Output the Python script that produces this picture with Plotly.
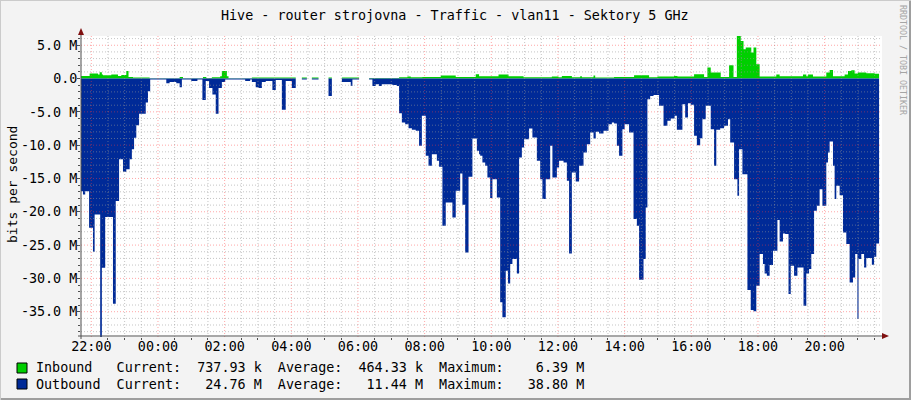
import plotly.graph_objects as go
import pandas as pd

# ---------------- data (Mbit/s, step values starting at given time) ----------------
out_times = ["21:41", "21:45", "21:49", "21:56", "22:03", "22:06", "22:16", "22:19", "22:25", "22:39",
             "22:44", "22:50", "22:57", "23:03", "23:09", "23:13", "23:17", "23:21", "23:26", "23:38",
             "23:42", "23:46", "00:15", "00:21", "00:33", "00:39", "00:43", "01:00", "01:11", "01:20",
             "01:26", "01:32", "01:38", "01:44", "01:49", "01:55", "02:01", "02:37", "02:46", "02:49",
             "02:56", "03:01", "03:07", "03:14", "03:26", "03:32", "03:43", "03:50", "04:01", "04:08",
             "04:19", "04:28", "04:37", "04:49", "05:07", "05:13", "05:31", "05:47", "05:50", "06:02",
             "06:20", "06:26", "06:32", "06:38", "06:43", "07:02", "07:10", "07:14", "07:19", "07:25",
             "07:31", "07:37", "07:44", "07:50", "07:55", "08:02", "08:07", "08:13", "08:22", "08:26",
             "08:32", "08:38", "08:50", "08:56", "09:04", "09:08", "09:13", "09:19", "09:26", "09:34",
             "09:38", "09:40", "09:44", "09:49", "09:53", "09:58", "10:02", "10:10", "10:16", "10:20",
             "10:26", "10:30", "10:34", "10:38", "10:46", "10:50", "10:55", "10:59", "11:08", "11:14",
             "11:22", "11:28", "11:32", "11:38", "11:46", "11:50", "11:58", "12:02", "12:10", "12:16",
             "12:20", "12:25", "12:32", "12:38", "12:46", "12:52", "12:58", "13:04", "13:08", "13:14",
             "13:22", "13:31", "13:37", "13:41", "13:46", "13:50", "13:56", "14:00", "14:08", "14:16",
             "14:22", "14:26", "14:34", "14:38", "14:41", "14:46", "14:52", "15:02", "15:10", "15:17",
             "15:23", "15:30", "15:34", "15:44", "15:49", "15:54", "15:59", "16:05", "16:10", "16:16",
             "16:20", "16:26", "16:35", "16:41", "16:45", "16:52", "16:59", "17:06", "17:10", "17:17",
             "17:23", "17:26", "17:32", "17:41", "17:47", "17:52", "17:57", "18:03", "18:09", "18:12",
             "18:16", "18:21", "18:27", "18:35", "18:39", "18:45", "18:49", "18:55", "18:59", "19:05",
             "19:11", "19:22", "19:27", "19:32", "19:36", "19:41", "19:46", "19:51", "19:56", "20:03",
             "20:06", "20:09", "20:15", "20:18", "20:21", "20:27", "20:33", "20:39", "20:45", "20:51",
             "20:55", "20:59", "21:01", "21:06", "21:11", "21:15", "21:25", "21:29", "21:33", "21:38"]
out_vals = [16.9, 17.4, 16.9, 22.4, 26.0, 20.4, 38.8, 28.4, 20.8, 33.8,
            18.4, 12.1, 14.0, 13.6, 12.1, 10.6, 8.9, 7.0, 5.3, 3.6,
            1.9, 0.15, 0.7, 0.5, 0.7, 1.3, 0.15, 0.35, 0.15, 3.2,
            0.35, 1.4, 2.4, 5.3, 1.4, 0.5, 0.15, 0.35, 0.15, 0.5,
            1.3, 1.4, 0.5, 0.35, 1.7, 0.2, 4.7, 0.35, 1.4, 0.0,
            0.15, 0.0, 0.15, 0.0, 2.6, 0.0, 0.5, 1.1, 0.15, 0.0,
            0.15, 1.1, 0.85, 1.1, 0.85, 0.95, 1.1, 5.2, 6.6, 6.85,
            7.45, 7.7, 7.85, 10.1, 5.6, 11.6, 13.1, 11.35, 12.35, 13.25,
            22.1, 18.6, 20.85, 16.85, 14.25, 18.95, 26.1, 14.75, 9.0, 10.85,
            11.35, 11.6, 12.6, 13.1, 14.85, 17.95, 15.1, 17.85, 33.6, 35.85,
            28.85, 30.75, 27.85, 27.1, 29.25, 11.85, 10.35, 9.1, 7.5, 8.85,
            12.35, 15.1, 18.1, 15.1, 10.1, 14.85, 13.35, 12.35, 12.6, 15.35,
            26.25, 14.1, 15.45, 13.1, 11.1, 9.85, 8.1, 9.0, 8.0, 8.25,
            7.85, 6.85, 6.6, 6.75, 10.1, 11.6, 7.6, 6.85, 8.1, 21.1,
            22.1, 30.2, 27.1, 19.35, 3.1, 2.6, 2.45, 4.1, 7.1, 6.35,
            6.0, 5.6, 7.7, 3.85, 5.85, 3.7, 3.95, 8.6, 10.0, 8.95,
            6.1, 4.1, 7.6, 13.1, 7.7, 7.45, 7.1, 6.1, 9.6, 15.1,
            17.6, 10.6, 14.35, 31.75, 34.75, 34.95, 31.1, 26.35, 27.85, 29.25,
            29.6, 28.0, 25.85, 21.25, 24.45, 23.25, 23.35, 32.35, 28.1, 29.6,
            28.35, 34.1, 29.25, 28.6, 26.35, 19.85, 19.1, 16.6, 19.1, 12.6,
            11.1, 9.45, 13.1, 18.1, 16.1, 17.5, 23.1, 24.85, 30.6, 29.85,
            26.35, 36.1, 27.1, 26.35, 28.35, 26.95, 27.95, 26.75, 24.76, 24.76]

in_times = ["21:41", "21:57", "22:12", "22:15", "22:19", "22:21", "22:36", "22:48", "22:54", "23:03",
            "23:07", "23:15", "23:45", "00:39", "00:45", "01:21", "01:27", "01:37", "01:52", "01:55",
            "02:04", "02:07", "02:49", "04:08", "04:19", "04:28", "04:37", "04:49", "05:07", "05:13",
            "05:31", "06:02", "06:20", "07:14", "07:29", "07:35", "07:56", "08:29", "08:56", "09:32",
            "09:38", "10:13", "10:31", "10:58", "11:49", "12:01", "12:07", "12:25", "12:40", "12:43",
            "13:04", "13:07", "13:41", "14:17", "14:44", "14:59", "15:29", "15:35", "16:05", "16:23",
            "16:29", "16:35", "16:53", "17:08", "17:16", "17:22", "17:29", "17:34", "17:38", "17:48",
            "17:52", "17:57", "18:03", "18:33", "18:39", "19:21", "19:27", "19:30", "19:39", "20:03",
            "20:09", "20:15", "20:36", "20:42", "20:48", "20:54", "21:00", "21:15", "21:30", "21:38"]
in_vals = [0.4, 0.75, 0.6, 0.95, 0.6, 0.5, 0.6, 0.4, 0.55, 1.15,
           0.25, 0.15, 0.05, 0.25, 0.05, 0.25, 0.1, 0.2, 0.35, 1.15,
           0.35, 0.05, 0.15, 0.0, 0.15, 0.0, 0.15, 0.0, 0.15, 0.0,
           0.15, 0.0, 0.1, 0.2, 0.3, 0.2, 0.25, 0.45, 0.25, 0.65,
           0.35, 0.6, 0.35, 0.2, 0.3, 0.2, 0.4, 0.2, 0.35, 0.2,
           0.45, 0.15, 0.25, 0.5, 0.2, 0.3, 0.4, 0.3, 0.65, 0.25,
           1.65, 0.9, 0.25, 2.0, 0.25, 6.39, 5.65, 4.4, 4.65, 3.9,
           4.65, 2.15, 0.3, 0.6, 0.35, 0.6, 0.35, 0.6, 0.3, 0.9,
           1.3, 0.35, 0.6, 1.15, 1.25, 0.75, 0.9, 0.8, 0.74, 0.74]

y_tick_vals = [5, 0, -5, -10, -15, -20, -25, -30, -35]
y_tick_text = ["5.0 M", "0.0", "-5.0 M", "-10.0 M", "-15.0 M", "-20.0 M", "-25.0 M", "-30.0 M", "-35.0 M"]

title_text = "Hive - router strojovna - Traffic - vlan11 - Sektory 5 GHz"
legend_rows = [
    ("Inbound", "737.93 k", "464.33 k", "6.39 M"),
    ("Outbound", "24.76 M", "11.44 M", "38.80 M"),
]

# ---------------- helpers ----------------
BASE = pd.Timestamp("2024-01-01")


def to_dt(times):
    res, day, prev = [], 0, None
    for s in times:
        h, m = map(int, s.split(":"))
        mins = h * 60 + m
        if prev is not None and mins < prev:
            day += 1
        prev = mins
        res.append(BASE + pd.Timedelta(days=day, minutes=mins))
    return res


W_FIG, H_FIG = 911, 400
L, R, T, B = 81, 882, 36, 337
PW, PH = R - L, B - T


def px(x):
    return (x - L) / PW


def py(y):
    return (B - y) / PH


GREEN = "#00CF00"
BLUE = "#002A97"
MONO = "DejaVu Sans Mono"
FS = 13.4

x_start = BASE + pd.Timedelta(hours=22) - pd.Timedelta(minutes=18.54)
x_end = x_start + pd.Timedelta(minutes=PW * 1.8)
y_min, y_max = -38.8, 6.39

fig = go.Figure()
fig.add_trace(go.Scatter(
    x=to_dt(in_times), y=[v * 1e6 for v in in_vals], mode="lines",
    line=dict(shape="hv", width=0, color=GREEN), fill="tozeroy", fillcolor=GREEN,
    hoverinfo="skip", showlegend=False))
fig.add_trace(go.Scatter(
    x=to_dt(out_times), y=[-v * 1e6 for v in out_vals], mode="lines",
    line=dict(shape="hv", width=0, color=BLUE), fill="tozeroy", fillcolor=BLUE,
    hoverinfo="skip", showlegend=False))

shapes = []
MINOR_C = "rgba(150,150,150,0.55)"
MAJOR_C = "rgba(255,60,60,0.45)"
DASH = "1px,2px"
# vertical grid (on top of data, like rrdtool)
t = BASE + pd.Timedelta(hours=22)
k = 0
while t <= x_end:
    col = MAJOR_C if k % 4 == 0 else MINOR_C
    shapes.append(dict(type="line", xref="x", yref="paper", x0=t, x1=t, y0=0, y1=1,
                       line=dict(color=col, width=1, dash=DASH), layer="above"))
    t += pd.Timedelta(minutes=30)
    k += 1
# horizontal grid
for v in range(-38, 7):
    if v == 0:
        continue
    col = MAJOR_C if v % 5 == 0 else MINOR_C
    shapes.append(dict(type="line", xref="paper", yref="y", x0=0, x1=1, y0=v * 1e6, y1=v * 1e6,
                       line=dict(color=col, width=1, dash=DASH), layer="above"))

# axis lines with arrows
AX = "#505050"
ARROW = "#7F1010"
shapes.append(dict(type="line", xref="paper", yref="paper", x0=px(78), x1=px(885), y0=py(B - 1), y1=py(B - 1),
                   line=dict(color=AX, width=1), layer="above"))
shapes.append(dict(type="line", xref="paper", yref="paper", x0=px(L), x1=px(L), y0=py(B + 2), y1=py(31),
                   line=dict(color=AX, width=1), layer="above"))
shapes.append(dict(type="path", xref="paper", yref="paper",
                   path=f"M {px(882)} {py(B - 4)} L {px(889)} {py(B - 1)} L {px(882)} {py(B + 2)} Z",
                   fillcolor=ARROW, line=dict(width=0), layer="above"))
shapes.append(dict(type="path", xref="paper", yref="paper",
                   path=f"M {px(L - 3)} {py(35)} L {px(L)} {py(28)} L {px(L + 3)} {py(35)} Z",
                   fillcolor=ARROW, line=dict(width=0), layer="above"))

# outer frame shading
shapes.append(dict(type="line", xref="paper", yref="paper", x0=px(0), x1=px(911), y0=py(399), y1=py(399),
                   line=dict(color="#9E9E9E", width=2), layer="above"))
shapes.append(dict(type="line", xref="paper", yref="paper", x0=px(910), x1=px(910), y0=py(0), y1=py(400),
                   line=dict(color="#9E9E9E", width=2), layer="above"))
shapes.append(dict(type="line", xref="paper", yref="paper", x0=px(0), x1=px(911), y0=py(0.5), y1=py(0.5),
                   line=dict(color="#CBCBCB", width=1), layer="above"))
shapes.append(dict(type="line", xref="paper", yref="paper", x0=px(0.5), x1=px(0.5), y0=py(0), y1=py(400),
                   line=dict(color="#CBCBCB", width=1), layer="above"))

# legend boxes
for i, colr in enumerate([GREEN, BLUE]):
    yc = 368 + 16 * i
    shapes.append(dict(type="rect", xref="paper", yref="paper", x0=px(17), x1=px(27), y0=py(yc + 5), y1=py(yc - 5),
                       fillcolor=colr, line=dict(color="black", width=1), layer="above"))

annotations = []
annotations.append(dict(text=title_text, xref="paper", yref="paper", x=px(455), y=py(15),
                        xanchor="center", yanchor="middle", showarrow=False,
                        font=dict(family=MONO, size=FS, color="black")))
annotations.append(dict(text="bits per second", xref="paper", yref="paper", x=px(12), y=py(185),
                        xanchor="center", yanchor="middle", showarrow=False, textangle=-90,
                        font=dict(family=MONO, size=13, color="black")))
annotations.append(dict(text="RRDTOOL / TOBI OETIKER", xref="paper", yref="paper", x=px(903), y=py(60),
                        xanchor="center", yanchor="middle", showarrow=False, textangle=90,
                        font=dict(family=MONO, size=8.3, color="#A5A5A5")))
for i, (name, cur, avg, mx) in enumerate(legend_rows):
    line = f"{name:<10}Current:{cur:>10}  Average:{avg:>10}  Maximum:{mx:>10}"
    annotations.append(dict(text=line.replace(" ", "\u00a0"), xref="paper", yref="paper",
                            x=px(34), y=py(368 + 16 * i), xanchor="left", yanchor="middle",
                            showarrow=False, font=dict(family=MONO, size=FS, color="black")))

fig.update_layout(
    width=W_FIG, height=H_FIG,
    margin=dict(l=L, r=W_FIG - R, t=T, b=H_FIG - B, pad=0, autoexpand=False),
    paper_bgcolor="#F3F3F3", plot_bgcolor="white",
    showlegend=False,
    shapes=shapes, annotations=annotations,
    xaxis=dict(type="date", range=[x_start, x_end], tick0=BASE + pd.Timedelta(hours=22),
               dtick=7200000, tickformat="%H:%M", ticks="", automargin=False,
               showgrid=False, zeroline=False, showline=False, fixedrange=True,
               minor=dict(tick0=BASE + pd.Timedelta(hours=22), dtick=1800000, ticks="outside",
                          ticklen=2, tickcolor=AX, showgrid=False),
               tickfont=dict(family=MONO, size=FS, color="black")),
    yaxis=dict(range=[y_min * 1e6, y_max * 1e6], tickmode="array", automargin=False,
               tickvals=[v * 1e6 for v in y_tick_vals], ticktext=y_tick_text,
               ticks="outside", ticklen=3, tickcolor=AX, ticklabelstandoff=-3,
               showgrid=False, zeroline=False, showline=False, fixedrange=True,
               minor=dict(tickmode="linear", tick0=0, dtick=1e6, ticks="outside", ticklen=2,
                          tickcolor=AX, showgrid=False),
               tickfont=dict(family=MONO, size=FS, color="black")),
)

fig.write_html("out.html", config={"displayModeBar": False, "staticPlot": True},
               post_script="document.body.style.margin='0';document.body.style.padding='0';")
